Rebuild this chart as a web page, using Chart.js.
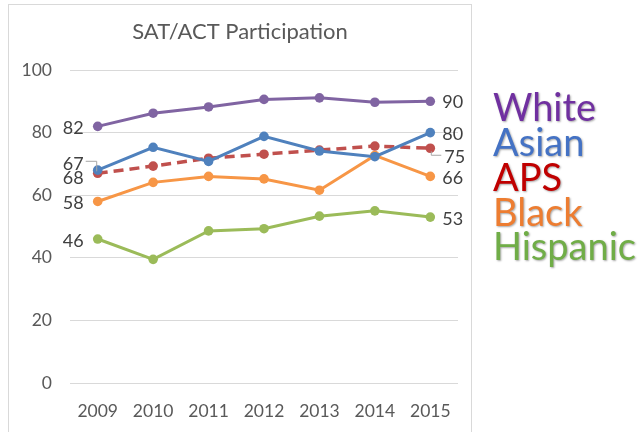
<!DOCTYPE html>
<html>
<head>
<meta charset="utf-8">
<script src="https://cdn.jsdelivr.net/npm/chart.js@4.4.1/dist/chart.umd.min.js"></script>
<style>
  html, body { margin: 0; padding: 0; background: #fff; }
  #wrap { position: relative; width: 643px; height: 432px; overflow: hidden; }
  #frame { position: absolute; left: 8px; top: 4px; width: 464px; height: 440px; border: 1px solid #d9d9d9; box-sizing: border-box; }
  canvas { position: absolute; left: 0; top: 0; }
</style>
</head>
<body>
<div id="wrap">
  <div id="frame"></div>
  <canvas id="c" width="643" height="432"></canvas>
</div>
<script>
const years = ['2009', '2010', '2011', '2012', '2013', '2014', '2015'];
const yTicks = [0, 20, 40, 60, 80, 100];

const white    = [82, 86.2, 88.2, 90.6, 91.1, 89.7, 90];
const asian    = [68, 75.3, 70.8, 78.8, 74.1, 72.3, 80];
const aps      = [67, 69.3, 71.8, 73.1, 74.4, 75.7, 75];
const black    = [58, 64.1, 66, 65.2, 61.6, 72.7, 66];
const hispanic = [46, 39.5, 48.6, 49.3, 53.3, 55, 53];

const legendNames = ['White', 'Asian', 'APS', 'Black', 'Hispanic'];
const legendColors = ['#7030A0', '#4472C4', '#C00000', '#ED7D31', '#70AD47'];

const FONT = 'Lato, "Open Sans", sans-serif';
const TXT = '#595959';

function series(label, data, color, dashed) {
  return {
    label, data,
    borderColor: color,
    backgroundColor: color,
    borderWidth: dashed ? 3.5 : 3,
    borderDash: dashed ? [10, 6] : [],
    pointRadius: 4.8,
    pointHoverRadius: 4.8,
    pointBorderWidth: 0,
    tension: 0,
    fill: false
  };
}

// End-point value labels: [datasetIndex, pointIndex, side, dx, dy, leader]
const endLabels = [
  [0, 0, 'left', -14, 2],
  [2, 0, 'left', -14, -9, 'left'],
  [1, 0, 'left', -14, 8],
  [3, 0, 'left', -14, 2],
  [4, 0, 'left', -14, 2],
  [0, 6, 'right', 12, 1],
  [1, 6, 'right', 12, 2],
  [2, 6, 'right', 14, 9, 'right'],
  [3, 6, 'right', 12, 2],
  [4, 6, 'right', 12, 2]
];

const decor = {
  id: 'decor',
  afterDatasetsDraw(chart) {
    const ctx = chart.ctx;
    ctx.save();
    // title
    ctx.fillStyle = TXT;
    ctx.font = '22px ' + FONT;
    ctx.textAlign = 'center';
    ctx.textBaseline = 'middle';
    ctx.fillText('SAT/ACT Participation', 240, 32);

    // value labels at the first and last year
    ctx.font = '18px ' + FONT;
    ctx.fillStyle = '#404040';
    ctx.textBaseline = 'middle';
    endLabels.forEach(([di, pi, side, dx, dy, leader]) => {
      const pt = chart.getDatasetMeta(di).data[pi];
      const v = chart.data.datasets[di].data[pi];
      const x = pt.x + dx, y = pt.y + dy;
      ctx.textAlign = side === 'left' ? 'right' : 'left';
      ctx.fillText(String(Math.round(v)), x, y);
      if (leader) {
        ctx.strokeStyle = '#a6a6a6';
        ctx.lineWidth = 1;
        ctx.beginPath();
        if (leader === 'left') {
          ctx.moveTo(x + 2, y - 3);
          ctx.lineTo(pt.x - 1, y - 3);
          ctx.lineTo(pt.x - 1, pt.y - 2);
        } else {
          ctx.moveTo(pt.x + 1, pt.y + 3);
          ctx.lineTo(pt.x + 1, y - 2);
          ctx.lineTo(x - 3, y - 2);
        }
        ctx.stroke();
      }
    });

    // coloured legend words
    ctx.font = '38px ' + FONT;
    ctx.textAlign = 'left';
    ctx.textBaseline = 'alphabetic';
    ctx.shadowColor = 'rgba(0,0,0,0.35)';
    ctx.shadowOffsetX = 1;
    ctx.shadowOffsetY = 1;
    ctx.shadowBlur = 2;
    const baselines = [121, 156, 191, 226, 260];
    legendNames.forEach((name, i) => {
      ctx.fillStyle = legendColors[i];
      ctx.fillText(name, 493, baselines[i]);
    });
    ctx.restore();
  }
};

new Chart(document.getElementById('c'), {
  type: 'line',
  data: {
    labels: years,
    datasets: [
      series('White', white, '#8064A2', false),
      series('Asian', asian, '#4F81BD', false),
      series('APS', aps, '#C0504D', true),
      series('Black', black, '#F79646', false),
      series('Hispanic', hispanic, '#9BBB59', false)
    ]
  },
  options: {
    responsive: false,
    animation: false,
    devicePixelRatio: 1,
    layout: { padding: { left: 8, right: 185, top: 70, bottom: 0 } },
    plugins: { legend: { display: false }, title: { display: false }, tooltip: { enabled: false } },
    scales: {
      x: {
        offset: true,
        grid: { display: false, drawTicks: false },
        border: { display: false },
        ticks: { color: TXT, font: { family: FONT, size: 17.5 }, padding: 18, maxRotation: 0, autoSkip: false },
        afterFit: s => { s.height = 49; }
      },
      y: {
        min: 0, max: 100,
        afterBuildTicks: s => { s.ticks = yTicks.map(v => ({ value: v })); },
        grid: { color: '#d9d9d9', lineWidth: 1, drawTicks: false },
        border: { display: false },
        ticks: { color: TXT, font: { family: FONT, size: 17.5 }, padding: 18 },
        afterFit: s => { s.width = 62; }
      }
    }
  },
  plugins: [decor]
});
</script>
</body>
</html>
